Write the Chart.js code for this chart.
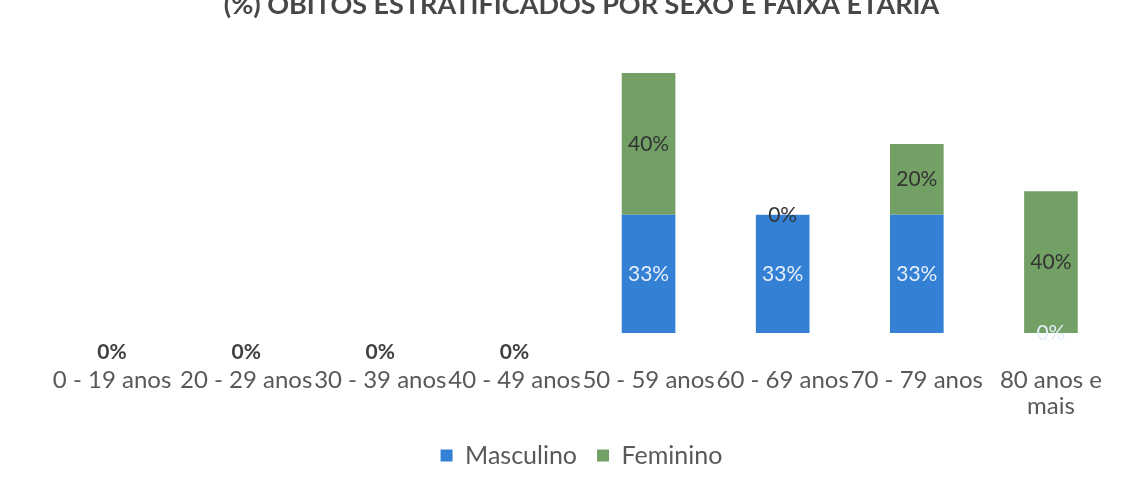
<!DOCTYPE html>
<html>
<head>
<meta charset="utf-8">
<script src="https://cdn.jsdelivr.net/npm/chart.js@4"></script>
<style>
  html, body { margin: 0; background: #fff; overflow: hidden; }
  #wrap { position: relative; width: 1133px; height: 505px; margin-top: -14px; }
</style>
</head>
<body>
<div id="wrap"><canvas id="chart"></canvas></div>
<script>
const categories = ['0 - 19 anos', '20 - 29 anos', '30 - 39 anos', '40 - 49 anos', '50 - 59 anos', '60 - 69 anos', '70 - 79 anos', ['80 anos e', 'mais']];
const masculino = [0, 0, 0, 0, 33.33, 33.33, 33.33, 0];
const feminino = [0, 0, 0, 0, 40, 0, 20, 40];
const TITLE = '(%) ÓBITOS ESTRATIFICADOS POR SEXO E FAIXA ETÁRIA';
const FONT = 'Lato, "Open Sans", sans-serif';

// rótulos de dados estilo Excel
const labelPlugin = {
  id: 'labels',
  afterDatasetsDraw(chart) {
    const ctx = chart.ctx;
    const base = chart.scales.y.getPixelForValue(0);
    ctx.save();
    ctx.textAlign = 'center';
    ctx.textBaseline = 'middle';
    chart.data.datasets.forEach((ds, di) => {
      chart.getDatasetMeta(di).data.forEach((bar, i) => {
        const v = ds.data[i];
        const txt = Math.round(v) + '%';
        const allZero = masculino[i] === 0 && feminino[i] === 0;
        if (allZero) {
          if (di !== 0) return;
          ctx.font = 'bold 21px ' + FONT;
          ctx.fillStyle = '#404040';
          ctx.fillText(txt, bar.x, base + 19);
          return;
        }
        ctx.font = '21px ' + FONT;
        ctx.fillStyle = di === 0 ? '#e4eef9' : '#333333';
        const y = (bar.y + bar.base) / 2;
        ctx.fillText(txt, bar.x, y);
      });
    });
    ctx.restore();
  }
};

new Chart(document.getElementById('chart'), {
  type: 'bar',
  data: {
    labels: categories,
    datasets: [
      { label: 'Masculino', data: masculino, backgroundColor: '#3480d4' },
      { label: 'Feminino', data: feminino, backgroundColor: '#72a065' },
    ],
  },
  options: {
    responsive: true,
    maintainAspectRatio: false,
    animation: false,
    layout: { padding: { left: 45, right: 15, top: 0, bottom: 13 } },
    datasets: { bar: { barPercentage: 0.4, categoryPercentage: 1 } },
    plugins: {
      title: {
        display: true, text: TITLE, color: '#474747',
        font: { family: FONT, size: 27, weight: 'bold' },
        padding: { top: 3, bottom: 5 },
      },
      legend: {
        position: 'bottom',
        labels: { color: '#595959', font: { family: FONT, size: 25 }, boxWidth: 12, boxHeight: 12, padding: 20 },
      },
      tooltip: { enabled: false },
    },
    scales: {
      x: {
        stacked: true,
        grid: { display: false },
        border: { display: false },
        ticks: { color: '#595959', font: { family: FONT, size: 24, lineHeight: 1.05 }, padding: 27, maxRotation: 0, autoSkip: false },
        afterFit: (scale) => { scale.height = 90; },
      },
      y: { stacked: true, display: false, min: 0, max: 86.5 },
    },
  },
  plugins: [labelPlugin],
});
</script>
</body>
</html>
